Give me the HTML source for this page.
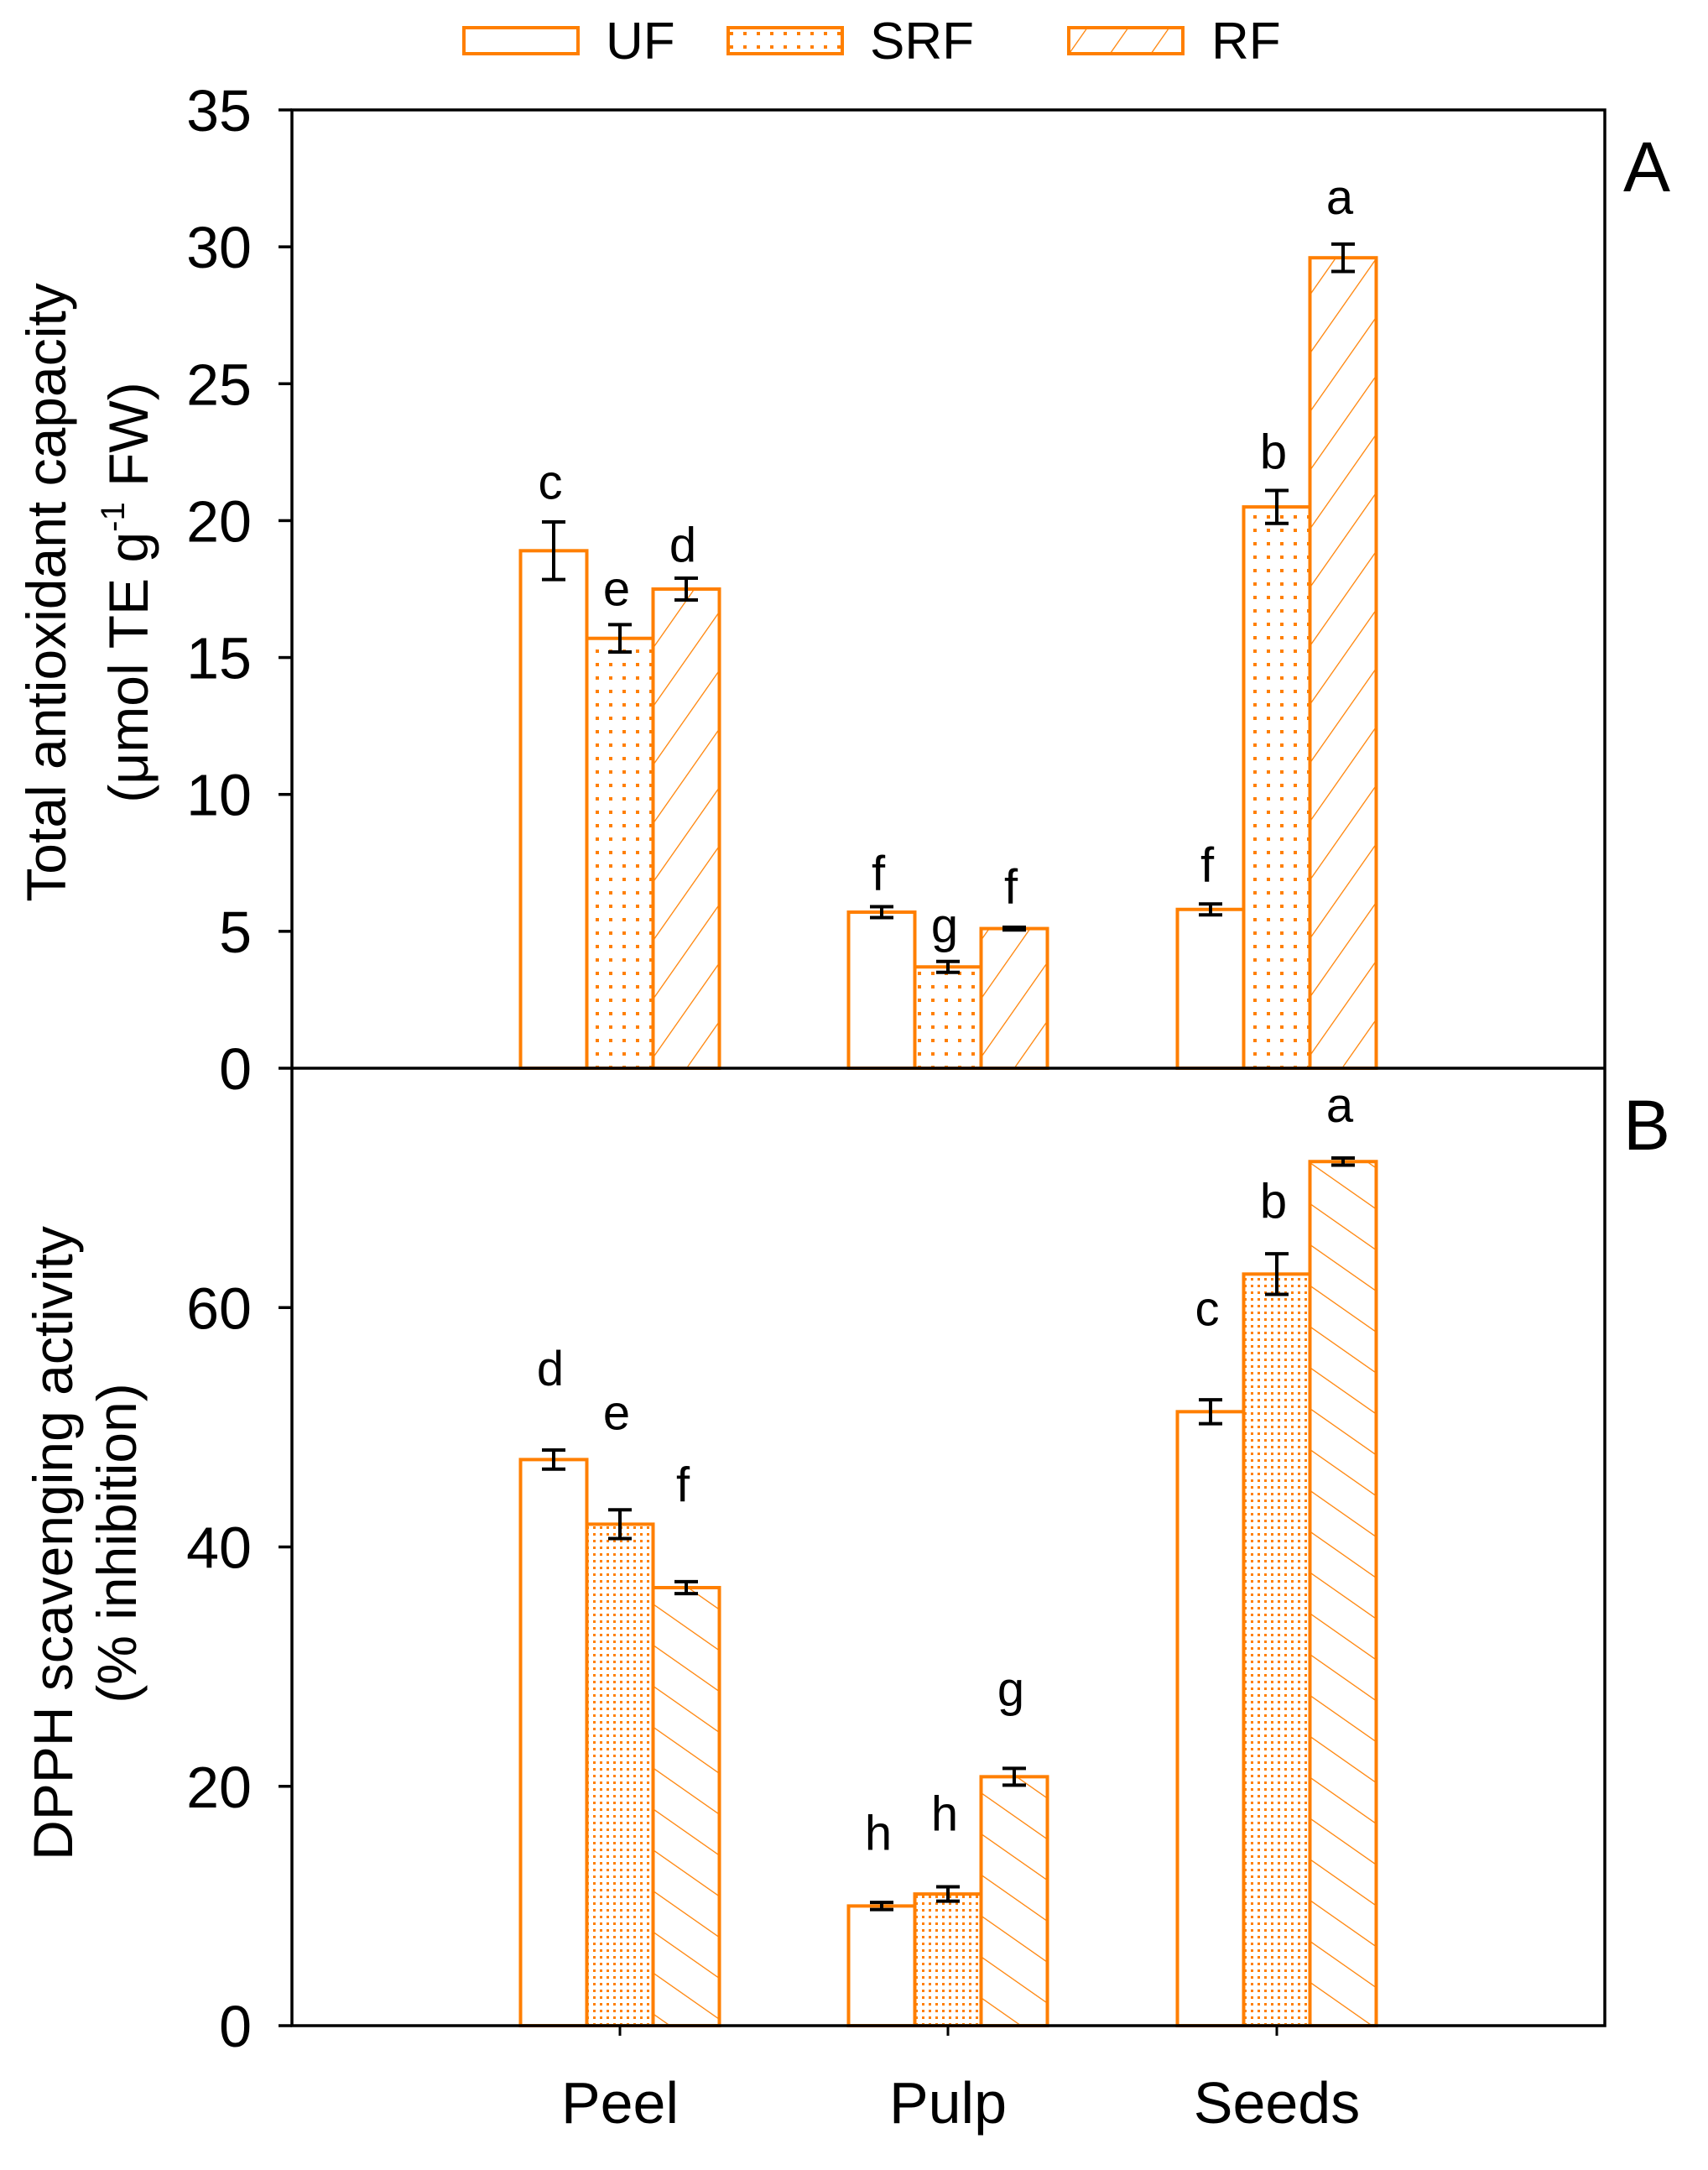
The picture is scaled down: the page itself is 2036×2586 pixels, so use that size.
<!DOCTYPE html>
<html><head><meta charset="utf-8"><style>
html,body{margin:0;padding:0;background:#fff}
svg{display:block}
text{font-family:"Liberation Sans",sans-serif;fill:#000}
</style></head><body>
<svg id="chart" width="2036" height="2586" viewBox="0 0 2036 2586" xmlns="http://www.w3.org/2000/svg">
<defs>
<pattern id="dotsA" width="16" height="16" patternUnits="userSpaceOnUse"><rect x="6" y="6" width="4" height="4" fill="#FF7F00"/></pattern>
<pattern id="dotsB" width="8" height="8" patternUnits="userSpaceOnUse"><rect x="3" y="3" width="3" height="3" fill="#FF7F00"/></pattern>
<pattern id="hatchA" width="40" height="40" patternUnits="userSpaceOnUse" patternTransform="rotate(35)"><line x1="0" y1="0" x2="0" y2="40" stroke="#FF7F00" stroke-width="2.5"/></pattern>
<pattern id="hatchB" width="40" height="40" patternUnits="userSpaceOnUse" patternTransform="rotate(-55)"><line x1="0" y1="0" x2="0" y2="40" stroke="#FF7F00" stroke-width="2.5"/></pattern>
</defs>
<g id="root"></g>
</svg>
<script>
const categories = ["Peel","Pulp","Seeds"];
const series = ["UF","SRF","RF"];
const valuesA = [[18.9,15.7,17.5],[5.7,3.7,5.1],[5.8,20.5,29.6]];
const errorsA = [[1.05,0.5,0.4],[0.2,0.2,0.05],[0.2,0.6,0.5]];
const lettersA = [["c","e","d"],["f","g","f"],["f","b","a"]];
const labelYA = [[20.8,16.9,18.5],[6.5,4.6,6.0],[6.8,21.9,31.2]];
const valuesB = [[47.3,41.9,36.6],[10.0,11.0,20.8],[51.3,62.8,72.2]];
const errorsB = [[0.8,1.2,0.5],[0.3,0.6,0.7],[1.0,1.7,0.3]];
const lettersB = [["d","e","f"],["h","h","g"],["c","b","a"]];
const labelYB = [[53.5,49.8,43.8],[14.7,16.3,26.7],[58.5,67.5,75.5]];
const ticksA = [0,5,10,15,20,25,30,35];
const ticksB = [0,20,40,60];

const NS="http://www.w3.org/2000/svg";
const root=document.getElementById('root');
function mk(tag,attrs,parent){const e=document.createElementNS(NS,tag);for(const k in attrs)e.setAttribute(k,attrs[k]);(parent||root).appendChild(e);return e;}
const L=348,R=1913,TA=131,MID=1273,BOT=2414;
const groupX=[739,1130,1522];const bw=79;
const xBar=(g,s)=>groupX[g]+(s-1.5)*bw;
const yA=v=>MID-(v/35)*(MID-TA);
const yB=v=>BOT-(v/80)*(BOT-MID);
const OR="#FF7F00";
const fillsA=["#fff","url(#dotsA)","url(#hatchA)"];
const fillsB=["#fff","url(#dotsB)","url(#hatchB)"];

function panel(vals,errs,lets,laby,yf,fills,name){
  for(let g=0;g<3;g++)for(let s=0;s<3;s++){
    const x=xBar(g,s),y=yf(vals[g][s]),y0=yf(0);
    const r=mk('rect',{x:x,y:y,width:bw,height:y0-y,fill:fills[s],stroke:OR,'stroke-width':4});
    
    
    const cx=x+bw/2,yt=yf(vals[g][s]+errs[g][s]),yb=yf(vals[g][s]-errs[g][s]);
    const eb=mk('path',{d:`M${cx-14},${yt}H${cx+14}M${cx},${yt}V${yb}M${cx-14},${yb}H${cx+14}`,stroke:'#000','stroke-width':4,fill:'none'});
    
    
    const t=mk('text',{x:cx-4,y:yf(laby[g][s]),'font-size':58,'text-anchor':'middle'});
    t.textContent=lets[g][s];
    
    
  }
}
panel(valuesA,errorsA,lettersA,labelYA,yA,fillsA,'panel-a');
panel(valuesB,errorsB,lettersB,labelYB,yB,fillsB,'panel-b');

const fr=mk('path',{d:`M${L},${TA}H${R}V${BOT}H${L}ZM${L},${MID}H${R}`,fill:'none',stroke:'#000','stroke-width':3.5});


ticksA.forEach(v=>{
  mk('line',{x1:L-16,x2:L,y1:yA(v),y2:yA(v),stroke:'#000','stroke-width':3.5});
  const t=mk('text',{x:L-48,y:yA(v)+25,'font-size':70,'text-anchor':'end'});t.textContent=v;
  
  
});
ticksB.forEach(v=>{
  mk('line',{x1:L-16,x2:L,y1:yB(v),y2:yB(v),stroke:'#000','stroke-width':3.5});
  const t=mk('text',{x:L-48,y:yB(v)+25,'font-size':70,'text-anchor':'end'});t.textContent=v;
  
  
});
categories.forEach((c,g)=>{
  mk('line',{x1:groupX[g],x2:groupX[g],y1:BOT,y2:BOT+12,stroke:'#000','stroke-width':3});
  const t=mk('text',{x:groupX[g],y:2530,'font-size':70,'text-anchor':'middle'});t.textContent=c;
  
  
});
</script>
<svg style="position:absolute;left:0;top:0" width="2036" height="2586" xmlns="http://www.w3.org/2000/svg">
<g>
<rect x="553" y="33" width="136" height="31" fill="#fff" stroke="#FF7F00" stroke-width="4"/>
<text x="722" y="70" font-size="62">UF</text>
<rect x="868" y="33" width="136" height="31" fill="url(#dotsA)" stroke="#FF7F00" stroke-width="4"/>
<text x="1037" y="70" font-size="62">SRF</text>
<rect x="1274" y="33" width="136" height="31" fill="url(#hatchA)" stroke="#FF7F00" stroke-width="4"/>
<text x="1444" y="70" font-size="62">RF</text>
</g>
<text x="1935" y="228" font-size="84">A</text>
<text x="1935" y="1370" font-size="84">B</text>
<g>
<text transform="translate(78,706) rotate(-90)" font-size="66" text-anchor="middle">Total antioxidant capacity</text>
<text transform="translate(176,706) rotate(-90)" font-size="66" text-anchor="middle">(μmol TE g<tspan dy="-28" font-size="40">-1</tspan><tspan dy="28"> FW)</tspan></text>
</g>
<g>
<text transform="translate(86,1839) rotate(-90)" font-size="66" text-anchor="middle">DPPH scavenging activity</text>
<text transform="translate(162,1839) rotate(-90)" font-size="66" text-anchor="middle">(% inhibition)</text>
</g>
</svg>
</body></html>
